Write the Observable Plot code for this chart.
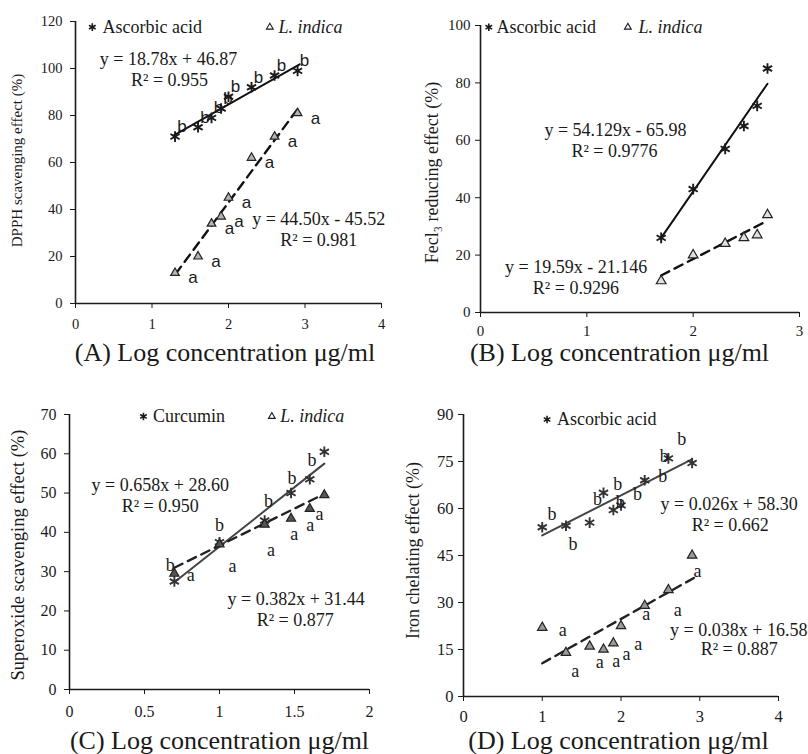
<!DOCTYPE html>
<html><head><meta charset="utf-8">
<script src="https://cdn.jsdelivr.net/npm/d3@7"></script>
<script src="https://cdn.jsdelivr.net/npm/@observablehq/plot@0.6"></script>
<style>
html,body{margin:0;padding:0;background:#fff;}
#root{position:relative;width:808px;height:754px;overflow:hidden;background:#fff;}
#root > svg{position:absolute;}
</style></head><body><div id="root"></div>
<script>
// ---------- Panel A: DPPH ----------
const aLogConc = [1.301, 1.602, 1.778, 1.903, 2.0, 2.301, 2.602, 2.903];
const aAscorbic = [71, 75, 79, 83, 88, 92, 97, 99];
const aIndica = [13, 20, 34, 37, 45, 62, 71, 81];
const aAscorbicLetters = ["b", "b", "b", "b", "b", "b", "b", "b"];
const aIndicaLetters = ["a", "a", "a", "a", "a", "a", "a", "a"];
const aAscorbicTrendX = [1.28, 2.93];
const aAscorbicTrendY = [71.4, 101.8];
const aIndicaTrendX = [1.31, 2.92];
const aIndicaTrendY = [12.6, 83.5];
const aEqText = ["y = 18.78x + 46.87", "R² = 0.955", "y = 44.50x - 45.52", "R² = 0.981"];
const aEqX = [1.216, 1.23, 3.18, 3.18];
const aEqY = [104.1, 94.9, 36.0, 27.1];
const aXTicks = [0, 1, 2, 3, 4];
const aYTicks = [0, 20, 40, 60, 80, 100, 120];

// ---------- Panel B: FeCl3 ----------
const bLogConc = [1.699, 2.0, 2.301, 2.477, 2.602, 2.699];
const bAscorbic = [26, 43, 57, 65, 72, 85];
const bIndica = [11, 20, 24, 26, 27, 34];
const bAscorbicTrendX = [1.699, 2.699];
const bAscorbicTrendY = [26, 79.7];
const bIndicaTrendX = [1.699, 2.699];
const bIndicaTrendY = [12.9, 32];
const bEqText = ["y = 54.129x - 65.98", "R² = 0.9776", "y = 19.59x - 21.146", "R² = 0.9296"];
const bEqX = [1.27, 1.26, 0.90, 0.897];
const bEqY = [63.4, 56.2, 15.6, 8.6];
const bXTicks = [0, 1, 2, 3];
const bYTicks = [0, 20, 40, 60, 80, 100];

// ---------- Panel C: Superoxide ----------
const cLogConc = [0.699, 1.0, 1.301, 1.477, 1.602, 1.699];
const cCurcumin = [27.5, 37.5, 43, 50, 53.5, 60.5];
const cIndica = [29.5, 37, 42, 43.5, 46, 49.5];
const cCurcuminTrendX = [0.699, 1.699];
const cCurcuminTrendY = [27.3, 57.5];
const cIndicaTrendX = [0.699, 1.699];
const cIndicaTrendY = [31, 49.8];
const cLetterText = ["b", "b", "b", "b", "b", "a", "a", "a", "a", "a", "a"];
const cLetterX = [1.616, 1.483, 1.327, 1.0, 0.671, 1.667, 1.605, 1.498, 1.343, 1.087, 0.809];
const cLetterY = [58.4, 53.9, 47.9, 41.7, 31.6, 44.7, 41.7, 39.4, 35.5, 31.3, 29.0];
const cEqText = ["y = 0.658x + 28.60", "R² = 0.950", "y = 0.382x + 31.44", "R² = 0.877"];
const cEqX = [0.605, 0.605, 1.511, 1.505];
const cEqY = [51.9, 46.6, 23.1, 17.6];
const cXTicks = [0, 0.5, 1, 1.5, 2];
const cYTicks = [0, 10, 20, 30, 40, 50, 60, 70];

// ---------- Panel D: Iron chelating ----------
const dLogConc = [1.0, 1.301, 1.602, 1.778, 1.903, 2.0, 2.301, 2.602, 2.903];
const dAscorbic = [54, 54.5, 55.5, 65, 59.5, 61, 69, 76, 74.5];
const dIndica = [22, 14, 16, 15, 17, 22.5, 29, 34, 45];
const dAscorbicTrendX = [1.0, 2.9];
const dAscorbicTrendY = [51.4, 75.7];
const dIndicaTrendX = [1.0, 2.93];
const dIndicaTrendY = [10.6, 37.9];
const dLetterText = ["b", "b", "b", "b", "b", "b", "b", "b", "b", "a", "a", "a", "a", "a", "a", "a", "a", "a"];
const dLetterX = [1.125, 1.39, 1.70, 1.96, 1.99, 2.21, 2.53, 2.55, 2.77, 1.26, 1.42, 1.73, 2.07, 1.94, 2.22, 2.32, 2.72, 2.97];
const dLetterY = [58.1, 48.7, 63.1, 67.9, 62.0, 64.5, 70.3, 76.8, 82.0, 21, 8.2, 10.9, 13.6, 11.2, 16.7, 26.1, 27.4, 40.1];
const dEqText = ["y = 0.026x + 58.30", "R² = 0.662", "y = 0.038x + 16.58", "R² = 0.887"];
const dEqX = [3.374, 3.387, 3.495, 3.501];
const dEqY = [61.5, 54.6, 21.0, 15.2];
const dXTicks = [0, 1, 2, 3, 4];
const dYTicks = [0, 15, 30, 45, 60, 75, 90];

// ---------- drawing ----------
const SERIF = "'Liberation Serif', 'Times New Roman', Times, serif";
const SANS = "'Liberation Sans', Arial, Helvetica, sans-serif";
const INK = "#1a1a1a";
const root = document.getElementById("root");

const pts = (xs, ys) => xs.map((x, i) => ({x, y: ys[i]}));
const lbl = (xs, ys, ts) => xs.map((x, i) => ({x, y: ys[i], t: ts[i]}));

function starDots(xs, ys, opts = {}) {
  return Plot.dot(pts(xs, ys), {x: "x", y: "y", symbol: "asterisk", r: 5, stroke: INK, strokeWidth: 1.9, ...opts});
}
function triDots(xs, ys, opts = {}) {
  return Plot.dot(pts(xs, ys), {x: "x", y: "y", symbol: "triangle", r: 3.2, fill: "#b4b4b4", stroke: "#222", strokeWidth: 1.2, ...opts});
}
function trend(xs, ys, color, dashed) {
  return Plot.line(pts(xs, ys), {x: "x", y: "y", stroke: color, strokeWidth: dashed ? 2.4 : 2, strokeDasharray: dashed ? "9,6" : null});
}
function texts(xs, ys, ts, opts) {
  return Plot.text(lbl(xs, ys, ts), {x: "x", y: "y", text: "t", fill: INK, ...opts});
}

function panel(cfg) {
  const svg = Plot.plot({
    width: cfg.width, height: cfg.height,
    marginTop: cfg.margin[0], marginRight: cfg.margin[1], marginBottom: cfg.margin[2], marginLeft: cfg.margin[3],
    x: {domain: cfg.xDomain, ticks: cfg.xTicks, tickSize: 5, tickPadding: cfg.xPad, tickFormat: d => String(d), label: null},
    y: {domain: cfg.yDomain, ticks: cfg.yTicks, tickSize: 5, tickPadding: cfg.yPad, tickFormat: d => String(d), label: null},
    style: {fontFamily: SERIF, fontSize: cfg.tickFont + "px", color: INK, background: "transparent", overflow: "visible"},
    marks: [
      Plot.ruleX([cfg.xDomain[0]], {stroke: INK, strokeWidth: 1.6}),
      Plot.ruleY([cfg.yDomain[0]], {stroke: INK, strokeWidth: 1.6}),
      ...cfg.marks,
      Plot.text([cfg.yLabel], {text: d => d, frameAnchor: "left", rotate: -90, textAnchor: "middle", lineAnchor: "middle",
        dx: cfg.yLabelDx, dy: cfg.yLabelDy, fontSize: cfg.yLabelSize, fontFamily: SERIF, fill: INK}),
      Plot.text([cfg.xTitle], {text: d => d, frameAnchor: "bottom", textAnchor: "middle", lineAnchor: "middle",
        dx: cfg.xTitleDx, dy: cfg.xTitleDy, fontSize: 26, fontFamily: SERIF, fill: INK})
    ]
  });
  svg.style.left = cfg.left + "px";
  svg.style.top = cfg.top + "px";
  svg.querySelectorAll("g[aria-label$='tick label'] text, g[aria-label$='tick label']").forEach(n => n.style.fontFamily = SERIF);
  root.appendChild(svg);
}

function legendStar(x, y) {
  return Plot.dot([{x, y}], {x: "x", y: "y", symbol: "asterisk", r: 3.6, stroke: INK, strokeWidth: 1.6});
}
function legendTri(x, y) {
  return Plot.dot([{x, y}], {x: "x", y: "y", symbol: "triangle", r: 2.5, fill: "#fff", stroke: INK, strokeWidth: 1.1});
}
function legendText(x, y, t, italic) {
  return Plot.text([{x, y}], {x: "x", y: "y", text: () => t, textAnchor: "start", fontSize: 18, fontFamily: SERIF, fontStyle: italic ? "italic" : "normal", fill: INK});
}

// Panel A
panel({
  left: 0, top: 0, width: 400, height: 370, margin: [21, 19, 67, 75],
  xDomain: [0, 4], yDomain: [0, 120], xTicks: aXTicks, yTicks: aYTicks, xPad: 10, yPad: 8, tickFont: 14.5,
  yLabel: "DPPH scavenging effect (%)", yLabelDx: -58, yLabelDy: -2, yLabelSize: 15,
  xTitle: "(A) Log concentration μg/ml", xTitleDx: -3.5, xTitleDy: 49,
  marks: [
    trend(aAscorbicTrendX, aAscorbicTrendY, "#111", false),
    trend(aIndicaTrendX, aIndicaTrendY, "#111", true),
    starDots(aLogConc, aAscorbic),
    triDots(aLogConc, aIndica),
    texts(aLogConc, aAscorbic, aAscorbicLetters, {dx: 7, dy: -10, fontFamily: SANS, fontSize: 17}),
    texts(aLogConc, aIndica, aIndicaLetters, {dx: 18, dy: 5, fontFamily: SANS, fontSize: 17}),
    texts(aEqX, aEqY, aEqText, {fontSize: 18, fontFamily: SERIF}),
    legendStar(0.22, 117.6), legendText(0.353, 117.6, "Ascorbic acid", false),
    legendTri(2.54, 117.6), legendText(2.654, 117.6, "L. indica", true)
  ]
});

// Panel B
panel({
  left: 400, top: 0, width: 408, height: 370, margin: [25, 9, 58, 80],
  xDomain: [0, 3], yDomain: [0, 100], xTicks: bXTicks, yTicks: bYTicks, xPad: 8, yPad: 5, tickFont: 15,
  yLabel: "Fecl₃ reducing effect (%)", yLabelDx: -48, yLabelDy: 3.5, yLabelSize: 18,
  xTitle: "(B) Log concentration μg/ml", xTitleDx: -20.5, xTitleDy: 40,
  marks: [
    trend(bAscorbicTrendX, bAscorbicTrendY, "#111", false),
    trend(bIndicaTrendX, bIndicaTrendY, "#111", true),
    starDots(bLogConc, bAscorbic),
    triDots(bLogConc, bIndica, {fill: "#e0e0e0", r: 3.6}),
    texts(bEqX, bEqY, bEqText, {fontSize: 18, fontFamily: SERIF}),
    legendStar(0.078, 99.4), legendText(0.15, 99.4, "Ascorbic acid", false),
    legendTri(1.386, 99.4), legendText(1.486, 99.4, "L. indica", true)
  ]
});

// Panel C
panel({
  left: 0, top: 375, width: 400, height: 379, margin: [39, 31, 65, 69],
  xDomain: [0, 2], yDomain: [0, 70], xTicks: cXTicks, yTicks: cYTicks, xPad: 11, yPad: 8, tickFont: 16,
  yLabel: "Superoxide scavenging effect (%)", yLabelDx: -51, yLabelDy: 3, yLabelSize: 18.5,
  xTitle: "(C) Log concentration μg/ml", xTitleDx: 0, xTitleDy: 51,
  marks: [
    trend(cCurcuminTrendX, cCurcuminTrendY, "#444", false),
    trend(cIndicaTrendX, cIndicaTrendY, "#222", true),
    starDots(cLogConc, cCurcumin, {stroke: "#333"}),
    triDots(cLogConc, cIndica, {fill: "#555", r: 3.4}),
    texts(cLetterX, cLetterY, cLetterText, {fontSize: 18, fontFamily: SERIF}),
    texts(cEqX, cEqY, cEqText, {fontSize: 18, fontFamily: SERIF}),
    legendStar(0.493, 69.5), legendText(0.556, 69.5, "Curcumin", false),
    legendTri(1.349, 69.5), legendText(1.405, 69.5, "L. indica", true)
  ]
});

// Panel D
panel({
  left: 400, top: 375, width: 408, height: 379, margin: [39, 30, 58, 63],
  xDomain: [0, 4], yDomain: [0, 90], xTicks: dXTicks, yTicks: dYTicks, xPad: 9, yPad: 5, tickFont: 16.5,
  yLabel: "Iron chelating effect (%)", yLabelDx: -50, yLabelDy: -5, yLabelSize: 18,
  xTitle: "(D) Log concentration μg/ml", xTitleDx: -2.5, xTitleDy: 44,
  marks: [
    trend(dAscorbicTrendX, dAscorbicTrendY, "#444", false),
    trend(dIndicaTrendX, dIndicaTrendY, "#222", true),
    starDots(dLogConc, dAscorbic, {stroke: "#333"}),
    triDots(dLogConc, dIndica, {fill: "#9a9a9a", r: 3.5}),
    texts(dLetterX, dLetterY, dLetterText, {fontSize: 18, fontFamily: SERIF}),
    texts(dEqX, dEqY, dEqText, {fontSize: 18, fontFamily: SERIF}),
    legendStar(1.061, 88.4), legendText(1.188, 88.4, "Ascorbic acid", false)
  ]
});
</script></body></html>
